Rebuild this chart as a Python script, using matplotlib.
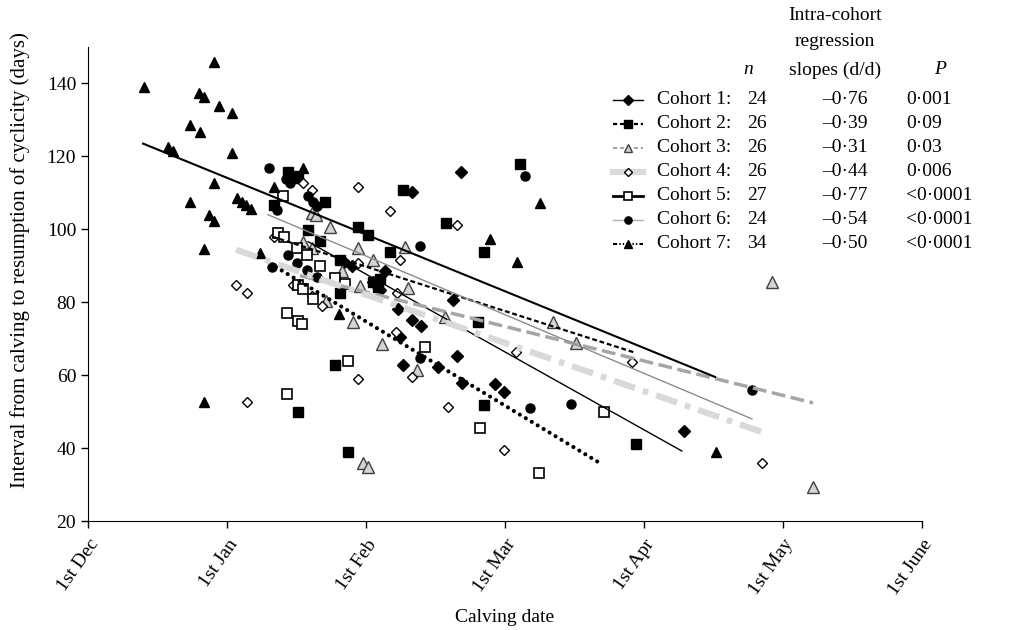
import matplotlib.pyplot as plt
import numpy as np

plt.rcParams['font.family'] = ['Liberation Serif', 'DejaVu Serif']
plt.rcParams['font.size'] = 14
plt.rcParams['lines.scale_dashes'] = False

month_labels = ['1st Dec', '1st Jan', '1st Feb', '1st Mar', '1st Apr', '1st May', '1st June']
month_len = 30.5  # axis step between month ticks, in days

cohort_names = ['Cohort 1:', 'Cohort 2:', 'Cohort 3:', 'Cohort 4:', 'Cohort 5:', 'Cohort 6:', 'Cohort 7:']
cohort_n = ['24', '26', '26', '26', '27', '24', '34']
cohort_slope = ['–0·76', '–0·39', '–0·31', '–0·44', '–0·77', '–0·54', '–0·50']
cohort_p = ['0·001', '0·09', '0·03', '0·006', '<0·0001', '<0·0001', '<0·0001']

# calving date (days after 1st Dec) and interval to resumption of cyclicity (days)
c1_day = [81.8, 71.1, 65.2, 80.1, 68.0, 71.1, 73.1, 68.5, 81.0, 69.1, 76.8, 82.1, 89.3, 91.3, 130.8,
          56.2, 57.9, 62.5, 64.1]
c1_int = [115.6, 110.3, 88.7, 80.7, 78.2, 75.2, 73.5, 70.5, 65.3, 62.8, 62.3, 57.9, 57.6, 55.4, 44.7,
          91.1, 90.0, 85.6, 83.4]

c2_day = [43.9, 46.1, 40.8, 52.0, 48.3, 50.9, 59.2, 61.4, 66.3, 69.1, 55.3, 62.5, 55.3, 94.8, 78.5,
          86.9, 85.6, 86.9, 54.2, 46.1, 57.0, 120.2, 63.6, 45.0, 64.1]
c2_int = [115.6, 114.5, 106.8, 107.6, 99.9, 96.9, 100.7, 98.5, 93.9, 110.9, 91.7, 85.6, 82.6, 118.0, 101.8,
          93.9, 74.6, 51.9, 62.8, 49.9, 38.9, 41.1, 84.2, 114.2, 86.5]

c3_day = [49.1, 50.0, 53.1, 47.2, 49.1, 59.2, 62.5, 69.5, 55.7, 59.7, 70.2, 52.2, 78.3, 64.5, 72.2,
          102.0, 107.1, 58.1, 60.3, 61.4, 150.1, 159.1]
c3_int = [104.6, 103.8, 100.7, 96.6, 95.0, 95.0, 91.7, 95.2, 88.7, 84.5, 84.0, 80.4, 76.0, 68.6, 61.5,
          74.6, 68.9, 74.6, 35.9, 34.8, 85.6, 29.3]

c4_day = [32.5, 34.9, 34.9, 47.2, 49.1, 59.2, 66.3, 40.8, 45.0, 49.1, 51.3, 68.5, 59.2, 67.8, 67.6,
          71.1, 81.0, 93.9, 79.0, 91.3, 59.2, 119.4, 147.9]
c4_int = [84.8, 82.6, 52.7, 112.8, 110.9, 111.7, 104.9, 98.0, 84.8, 81.8, 79.0, 91.7, 90.8, 82.6, 71.9,
          59.5, 101.3, 66.4, 51.3, 39.5, 59.0, 63.7, 35.9]

c5_day = [42.8, 41.7, 43.0, 45.9, 48.0, 50.9, 54.2, 56.4, 46.1, 47.2, 49.4, 43.7, 46.1, 47.0, 57.0,
          43.7, 73.9, 86.0, 98.9, 113.2]
c5_int = [109.0, 99.1, 98.0, 95.0, 93.0, 90.0, 86.7, 85.1, 84.8, 83.7, 81.0, 77.1, 74.9, 74.1, 63.9,
          54.9, 67.8, 45.5, 33.2, 49.9]

c6_day = [39.7, 43.4, 44.3, 48.3, 49.4, 50.2, 41.5, 43.9, 45.9, 48.0, 40.4, 50.2, 95.9, 72.8, 72.8,
          97.0, 106.0, 145.7]
c6_int = [116.9, 113.9, 112.8, 109.0, 107.6, 106.5, 105.4, 93.0, 90.8, 88.9, 89.7, 87.0, 114.5, 95.5, 64.8,
          51.0, 52.1, 56.0]

c7_day = [27.6, 12.3, 24.4, 25.5, 28.7, 31.6, 22.4, 24.6, 17.6, 18.6, 31.6, 27.6, 22.4, 32.7, 33.8,
          34.7, 35.8, 26.5, 27.6, 40.8, 25.5, 37.7, 25.5, 47.2, 55.1, 99.2, 88.2, 94.1, 137.8]
c7_int = [145.8, 138.9, 137.5, 136.4, 133.7, 131.8, 128.7, 126.8, 122.7, 121.6, 120.8, 112.8, 107.6, 108.7, 107.6,
          106.8, 105.7, 104.0, 102.4, 111.7, 94.7, 93.6, 52.7, 116.7, 76.8, 107.3, 97.4, 91.1, 38.9]

# regression lines as drawn: (first day, last day), (value at first day, value at last day)
c1_fit = ([48.3, 130.3], [96.6, 39.2])
c2_fit = ([40.4, 120.2], [98.0, 66.1])
c3_fit = ([46.5, 159.1], [87.3, 52.4])
c4_fit = ([32.5, 147.9], [94.4, 44.4])
c5_fit = ([41.2, 112.3], [89.7, 35.9])
c6_fit = ([39.5, 145.7], [104.0, 48.0])
c7_fit = ([12.1, 137.6], [123.5, 59.5])

days = [c1_day, c2_day, c3_day, c4_day, c5_day, c6_day, c7_day]
ints = [c1_int, c2_int, c3_int, c4_int, c5_int, c6_int, c7_int]
fits = [c1_fit, c2_fit, c3_fit, c4_fit, c5_fit, c6_fit, c7_fit]

marker_style = [
    dict(marker='D', ms=6, mfc='black', mec='black'),
    dict(marker='s', ms=6.5, mfc='black', mec='black'),
    dict(marker='^', ms=8, mfc='#d4d4d4', mec='#404040', mew=1),
    dict(marker='D', ms=5.5, mfc='white', mec='black', mew=1),
    dict(marker='s', ms=6.5, mfc='white', mec='black', mew=1.2),
    dict(marker='o', ms=6.5, mfc='black', mec='black'),
    dict(marker='^', ms=7.5, mfc='black', mec='black'),
]
line_style = [
    dict(color='black', lw=1.0),
    dict(color='black', lw=1.6, dashes=(3.5, 2)),
    dict(color='#a6a6a6', lw=2.5, dashes=(10, 4)),
    dict(color='#d9d9d9', lw=4.5, dashes=(16, 6, 4, 6)),
    dict(color='black', lw=3.0, dashes=(0.01, 5), dash_capstyle='round'),
    dict(color='#8c8c8c', lw=1.0),
    dict(color='black', lw=1.5),
]
legend_line = [
    dict(color='black', lw=1.0),
    dict(color='black', lw=1.6, dashes=(3, 2)),
    dict(color='#a6a6a6', lw=1.5, dashes=(3, 2)),
    dict(color='#d9d9d9', lw=4.5),
    dict(color='black', lw=2.0),
    dict(color='#b0b0b0', lw=1.0),
    dict(color='black', lw=1.5, dashes=(3, 1.5, 1, 1.5, 1, 1.5)),
]

fig = plt.figure(figsize=(10.24, 6.3), dpi=100)
ax = fig.add_axes([88 / 1024, 1 - 521 / 630, (922 - 88) / 1024, (521 - 47) / 630])

for k in range(7):
    ax.plot(days[k], ints[k], ls='none', zorder=3, **marker_style[k])
for k in range(7):
    ax.plot(fits[k][0], fits[k][1], zorder=4, **line_style[k])

ax.set_xlim(0, 6 * month_len)
ax.set_ylim(20, 150)
ax.set_xticks(np.arange(7) * month_len)
ax.set_xticklabels(month_labels, rotation=55, ha='right', rotation_mode='anchor')
ax.set_yticks(range(20, 141, 20))
for s in ['top', 'right']:
    ax.spines[s].set_visible(False)
ax.tick_params(direction='out', length=5, width=1, labelsize=14)
ax.tick_params(axis='x', pad=6)

fig.text(20 / 1024, 1 - 260 / 630, 'Interval from calving to resumption of cyclicity (days)',
         rotation=90, ha='center', va='center', fontsize=15)
fig.text(505 / 1024, 1 - 617 / 630, 'Calving date', ha='center', va='center', fontsize=14)

# legend table drawn in pixel coordinates
lax = fig.add_axes([0, 0, 1, 1], zorder=5)
lax.set_xlim(0, 1024)
lax.set_ylim(630, 0)
lax.axis('off')
lax.patch.set_alpha(0)

lax.text(748, 70, 'n', style='italic', ha='center', va='center')
lax.text(835, 15, 'Intra-cohort', ha='center', va='center')
lax.text(835, 42, 'regression', ha='center', va='center')
lax.text(835, 70, 'slopes (d/d)', ha='center', va='center')
lax.text(940, 70, 'P', style='italic', ha='center', va='center')

row_y = [100, 124, 148, 172, 196, 220, 244]
for k in range(7):
    y = row_y[k]
    lax.plot([613, 643], [y, y], **legend_line[k])
    ms = dict(marker_style[k])
    ms['ms'] = ms['ms'] * 0.8
    lax.plot([628], [y], ls='none', **ms)
    lax.text(657, y, cohort_names[k], ha='left', va='center')
    lax.text(747, y, cohort_n[k], ha='left', va='center')
    lax.text(822, y, cohort_slope[k], ha='left', va='center')
    lax.text(906, y, cohort_p[k], ha='left', va='center')

fig.savefig('out.png', dpi=100)
